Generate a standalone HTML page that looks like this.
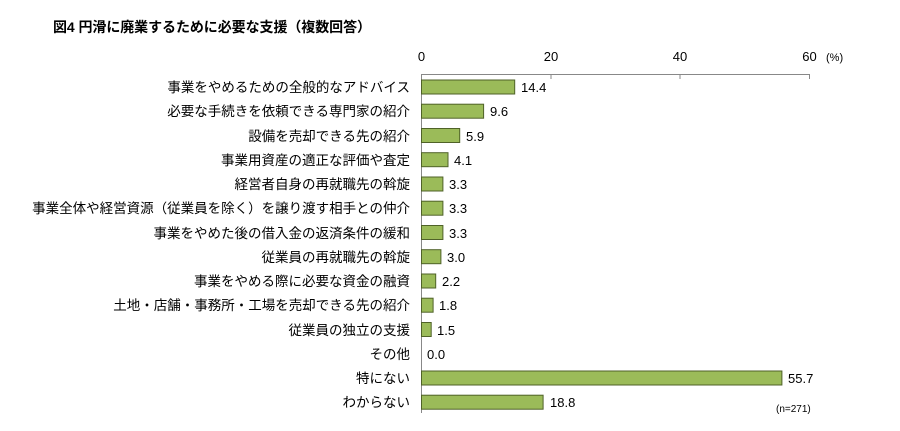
<!DOCTYPE html>
<html><head><meta charset="utf-8"><style>
body{margin:0;background:#fff;}
svg text{font-family:"Liberation Sans","Noto Sans CJK JP",sans-serif;fill:#000;}
</style></head><body>
<svg width="900" height="426" viewBox="0 0 900 426" xmlns="http://www.w3.org/2000/svg">
<text x="53" y="32" font-size="14" font-weight="bold" textLength="318">図4  円滑に廃業するために必要な支援（複数回答）</text>
<g font-size="13" text-anchor="middle">
<text x="421.5" y="61">0</text><text x="551" y="61">20</text><text x="680" y="61">40</text><text x="809.5" y="61">60</text>
</g>
<text x="826" y="61" font-size="11" fill="#333">(%)</text>
<line x1="421.5" y1="74.5" x2="809.5" y2="74.5" stroke="#888"/>
<g stroke="#888"><line x1="551" y1="74" x2="551" y2="79"/><line x1="680" y1="74" x2="680" y2="79"/><line x1="809.5" y1="74" x2="809.5" y2="79"/></g>
<line x1="421.5" y1="74" x2="421.5" y2="413" stroke="#888"/>
<g fill="#9bbb59" stroke="#4f6228" stroke-width="1">
<rect x="421.5" y="80" width="93.2" height="14"/>
<rect x="421.5" y="104.2" width="62.1" height="14"/>
<rect x="421.5" y="128.5" width="38.2" height="14"/>
<rect x="421.5" y="152.7" width="26.5" height="14"/>
<rect x="421.5" y="177" width="21.4" height="14"/>
<rect x="421.5" y="201.2" width="21.4" height="14"/>
<rect x="421.5" y="225.5" width="21.4" height="14"/>
<rect x="421.5" y="249.7" width="19.4" height="14"/>
<rect x="421.5" y="274" width="14.2" height="14"/>
<rect x="421.5" y="298.2" width="11.6" height="14"/>
<rect x="421.5" y="322.5" width="9.7" height="14"/>
<rect x="421.5" y="371" width="360.4" height="14"/>
<rect x="421.5" y="395.2" width="121.6" height="14"/>
</g>
<g font-size="13">
<text x="521" y="92">14.4</text>
<text x="490" y="116">9.6</text>
<text x="466" y="141">5.9</text>
<text x="454" y="165">4.1</text>
<text x="449" y="189">3.3</text>
<text x="449" y="213">3.3</text>
<text x="449" y="238">3.3</text>
<text x="447" y="262">3.0</text>
<text x="442" y="286">2.2</text>
<text x="439" y="310">1.8</text>
<text x="437" y="335">1.5</text>
<text x="427" y="359">0.0</text>
<text x="788" y="383">55.7</text>
<text x="550" y="407">18.8</text>
</g>
<text x="776" y="412" font-size="10" fill="#333">(n=271)</text>
<g font-size="13.5" text-anchor="end">
<text x="410" y="92">事業をやめるための全般的なアドバイス</text>
<text x="410" y="116">必要な手続きを依頼できる専門家の紹介</text>
<text x="410" y="141">設備を売却できる先の紹介</text>
<text x="410" y="165">事業用資産の適正な評価や査定</text>
<text x="410" y="189">経営者自身の再就職先の斡旋</text>
<text x="410" y="213">事業全体や経営資源（従業員を除く）を譲り渡す相手との仲介</text>
<text x="410" y="238">事業をやめた後の借入金の返済条件の緩和</text>
<text x="410" y="262">従業員の再就職先の斡旋</text>
<text x="410" y="286">事業をやめる際に必要な資金の融資</text>
<text x="410" y="310">土地・店舗・事務所・工場を売却できる先の紹介</text>
<text x="410" y="335">従業員の独立の支援</text>
<text x="410" y="359">その他</text>
<text x="410" y="383">特にない</text>
<text x="410" y="407">わからない</text>
</g>
</svg>
</body></html>
